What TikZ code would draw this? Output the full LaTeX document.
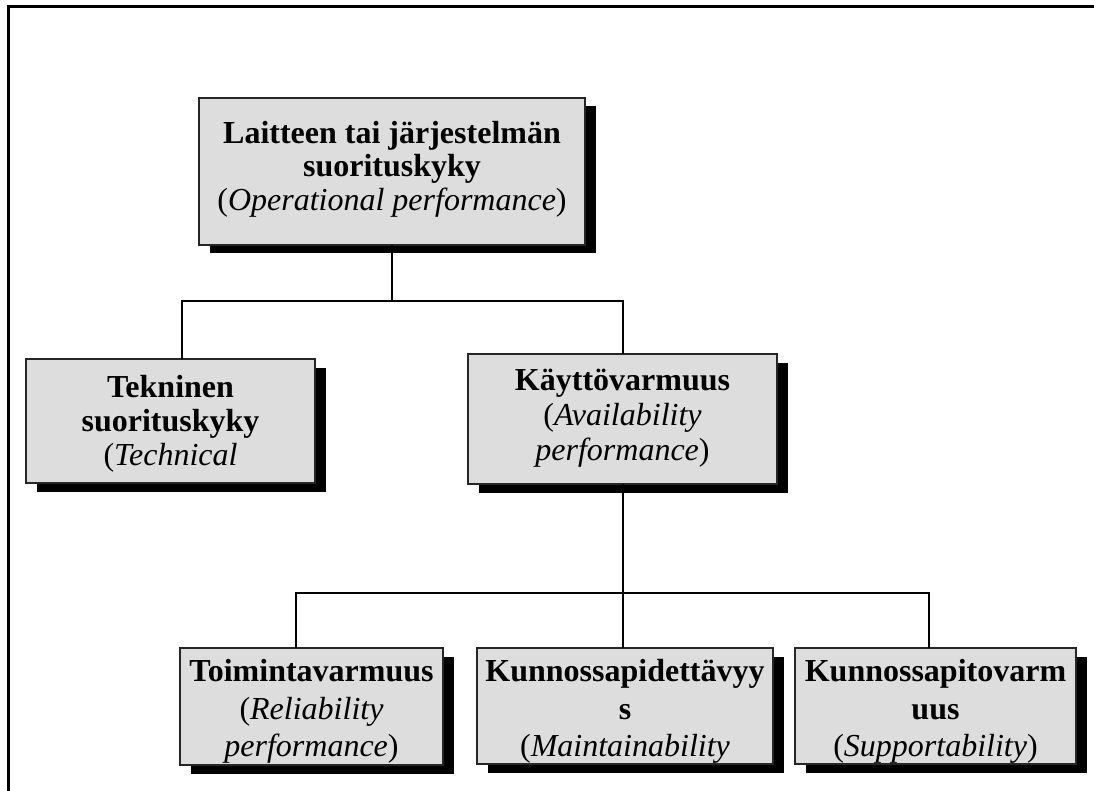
\documentclass[tikz,border=0pt]{standalone}
\usepackage{fontspec}
\setmainfont{Liberation Serif}
\usetikzlibrary{shadows}
\definecolor{boxfill}{RGB}{221,221,221}
\tikzset{
  perf/.style={rectangle, draw=black!85, line width=1.4pt, fill=boxfill,
    inner sep=0pt, outer sep=0pt,
    drop shadow={shadow xshift=10.5pt, shadow yshift=-8.5pt, fill=black, opacity=1}},
  perftext/.style={align=center, inner sep=0pt},
  conn/.style={line width=2pt, line join=miter},
  frameline/.style={line width=3pt, line join=miter}
}
% #1 name, #2/#3 top-left corner, #4 width, #5 height,
% #6 gap from the top edge to the first text line, #7 line spacing, #8 text
\newcommand{\perfbox}[8]{%
  \node[perf, minimum width=#4pt, minimum height=#5pt, anchor=north west] (#1) at (#2,#3) {};
  \begin{scope}
    \clip ([shift={(0.7pt,0.7pt)}]#1.south west) rectangle ([shift={(-0.7pt,-0.7pt)}]#1.north east);
    \node[perftext, font=\fontsize{32}{#7}\selectfont, anchor=north]
      at ([yshift=-#6pt]#1.north) {\strut #8};
  \end{scope}}

\begin{document}
\begin{tikzpicture}[x=1pt, y=-1pt]
\useasboundingbox (0,0) rectangle (1094,791);

% page frame (only top and left edges are inside the sheet)
\draw[frameline] (8.5,791) -- (8.5,7) -- (1094,7);

% boxes
\perfbox{top}{199}{98}{386}{147}{21.5}{33.5}{%
  \textbf{Laitteen tai järjestelmän}\\\textbf{suorituskyky}\\(\textit{Operational performance})}
\perfbox{tek}{26}{359}{289}{124}{14.5}{34}{%
  \textbf{Tekninen}\\\textbf{suorituskyky}\\(\textit{Technical}}
\perfbox{kay}{468}{354}{309}{130}{11.5}{35}{%
  \textbf{Käyttövarmuus}\\(\textit{Availability}\\\textit{performance})}
\perfbox{toi}{180}{648}{263}{117}{7.5}{37.5}{%
  \textbf{Toimintavarmuus}\\(\textit{Reliability}\\\textit{performance})}
\perfbox{kpd}{477}{648}{296}{116}{7.5}{37.5}{%
  \textbf{Kunnossapidettävyy}\\\textbf{s}\\(\textit{Maintainability}}
\perfbox{kpv}{795}{648}{281}{116}{7.5}{37.5}{%
  \textbf{Kunnossapitovarm}\\\textbf{uus}\\(\textit{Supportability})}

% first level of the tree
\coordinate (j1) at (392,301);
\coordinate (tekin) at ([xshift=11.5pt]tek.north);
\draw[conn] (top.south) -- (j1);
\draw[conn] (tekin) |- (j1 -| kay.north) -- (kay.north);

% second level of the tree
\coordinate (j2) at (392,593);
\coordinate (toiin) at ([xshift=-15.5pt]toi.north);
\coordinate (kpvin) at ([xshift=-6.5pt]kpv.north);
\draw[conn] (kay.south) -- (kay.south |- kpd.north);
\draw[conn] (toiin) |- (kpvin |- j2) -- (kpvin);
\end{tikzpicture}
\end{document}
